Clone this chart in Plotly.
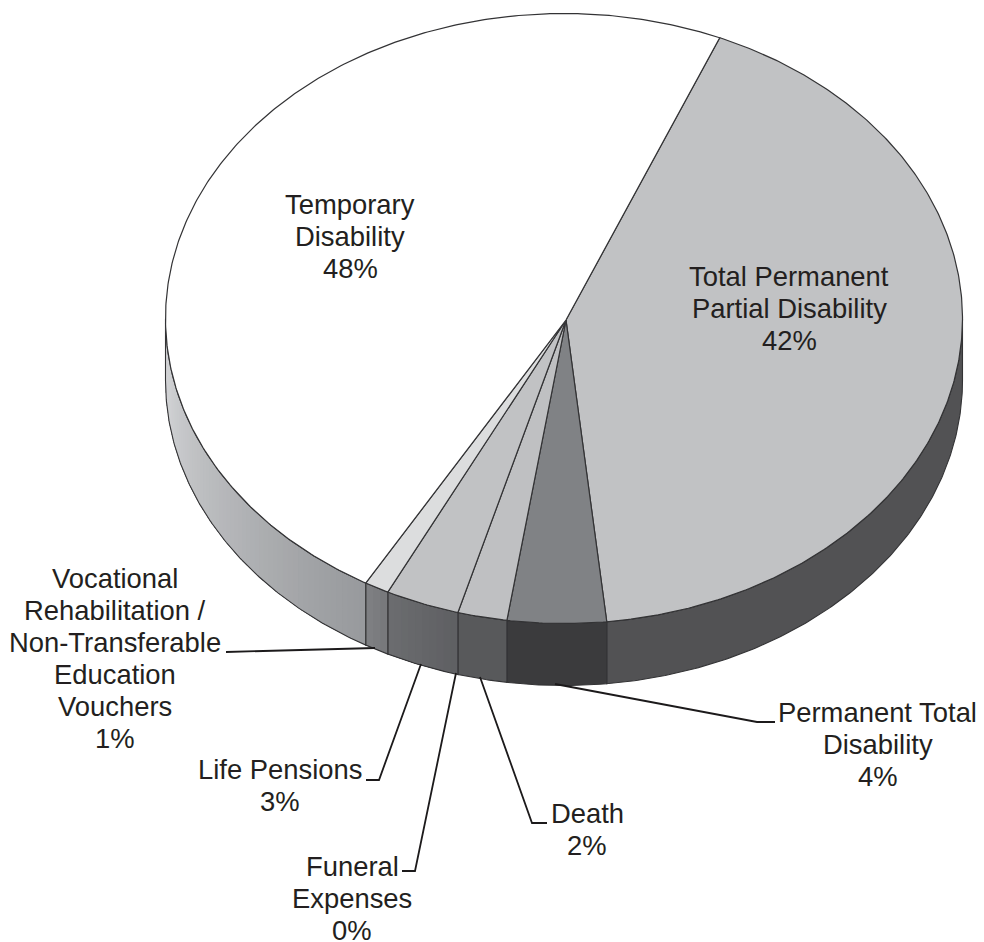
import math
import plotly.graph_objects as go

# ---- data ----
categories = ["Total Permanent Partial Disability", "Permanent Total Disability", "Death",
              "Funeral Expenses", "Life Pensions",
              "Vocational Rehabilitation / Non-Transferable Education Vouchers",
              "Temporary Disability"]
values = [41.9, 4, 2, 0, 3, 1, 48.1]
label_lines = [["Total Permanent", "Partial Disability", "42%"],
               ["Permanent Total", "Disability", "4%"],
               ["Death", "2%"],
               ["Funeral", "Expenses", "0%"],
               ["Life Pensions", "3%"],
               ["Vocational", "Rehabilitation /", "Non-Transferable", "Education", "Vouchers", "1%"],
               ["Temporary", "Disability", "48%"]]

# ---- styles and layout ----
top_colors = ["#c1c2c4", "#808285", "#bfc0c2", "#bfc0c2", "#c1c2c4", "#dcddde", "#ffffff"]
side_colors = [("#525254", "#525254"), ("#3b3b3d", "#3b3b3d"), ("#58595b", "#58595b"),
               ("#58595b", "#58595b"), ("#5e5f62", "#6c6d70"), ("#77787b", "#7f8083"),
               ("#97999c", "#d8d9db")]
label_pos = [(789, 276), (877.5, 712), (587, 813), (352, 866), (280, 769), (115, 578), (350, 204)]
leaders = [[(555, 684), (757, 722), (775, 722)],
           [(480, 677), (532, 823), (547, 823)],
           [(456, 673), (415, 871), (402, 871)],
           [(421, 664), (379, 780), (366, 780)],
           [(375, 648), (226, 652)]]
CX, CY, RX, RY, DEPTH = 564.0, 318.5, 398.5, 305.0, 62.0
APEX = (566.0, 320.0)
START_DEG = 23.0
LINE_H = 32.0
FONT_SIZE = 27.4
TEXT = "#231f20"
EDGE = "#333335"


def pt(deg, dy=0.0):
    a = math.radians(deg)
    return CX + RX * math.sin(a), CY - RY * math.cos(a) + dy


def arc(a0, a1, dy=0.0, step=0.5):
    n = max(1, int(abs(a1 - a0) / step))
    return [pt(a0 + (a1 - a0) * i / n, dy) for i in range(n + 1)]


def mix(c0, c1, f):
    p = [int(c0[i:i + 2], 16) for i in (1, 3, 5)]
    q = [int(c1[i:i + 2], 16) for i in (1, 3, 5)]
    return "#%02x%02x%02x" % tuple(round(a + (b - a) * f) for a, b in zip(p, q))


fig = go.Figure()


def poly(points, fill=None, color=EDGE, width=1.2):
    fig.add_trace(go.Scatter(
        x=[p[0] for p in points], y=[p[1] for p in points], mode="lines",
        fill="toself" if fill else None, fillcolor=fill,
        line=dict(color=color, width=width), hoverinfo="skip", showlegend=False))


# slice boundaries, clockwise from the start angle
bounds = [START_DEG]
total = sum(values)
for v in values:
    bounds.append(bounds[-1] + 360.0 * v / total)

# side wall (only the front half of the ellipse is visible)
for i, v in enumerate(values):
    a0, a1 = max(bounds[i], 90.0), min(bounds[i + 1], 270.0)
    if v == 0 or a1 <= a0:
        continue
    c0, c1 = side_colors[i]
    n = 1 if c0 == c1 else max(2, int((a1 - a0) / 1.0))
    # each strip runs to the end of the slice and the next one paints over it, so no seams show
    for k in range(n):
        s0 = a0 + (a1 - a0) * k / n
        col = mix(c0, c1, (k + 0.5) / n)
        poly(arc(s0, a1) + arc(a1, s0, DEPTH) + [pt(s0)], fill=col, color=col, width=0)
    poly(arc(a0, a1) + arc(a1, a0, DEPTH) + [pt(a0)], width=1.1)

# top face
for i, v in enumerate(values):
    if v == 0:
        continue
    poly([APEX] + arc(bounds[i], bounds[i + 1]) + [APEX], fill=top_colors[i])

# leader lines
for seg in leaders:
    poly(seg, color="#1c1a1b", width=1.8)

# labels, one annotation per text line
for lines, (lx, ly) in zip(label_lines, label_pos):
    for j, t in enumerate(lines):
        y = ly + j * LINE_H
        extra = dict(height=22) if y + 18 > 942 else {}
        fig.add_annotation(x=lx, y=y, text=t, showarrow=False, xanchor="center",
                           yanchor="middle", xref="x", yref="y",
                           font=dict(family="Liberation Sans", size=FONT_SIZE, color=TEXT), **extra)

fig.update_layout(width=984, height=942, margin=dict(l=0, r=0, t=0, b=0),
                  paper_bgcolor="white", plot_bgcolor="white", showlegend=False,
                  xaxis=dict(range=[0, 984], visible=False, fixedrange=True),
                  yaxis=dict(range=[942, 0], visible=False, fixedrange=True))
fig.write_html("out.html", config={"displayModeBar": False},
               post_script="document.body.style.margin='0';document.body.style.overflow='hidden';")
